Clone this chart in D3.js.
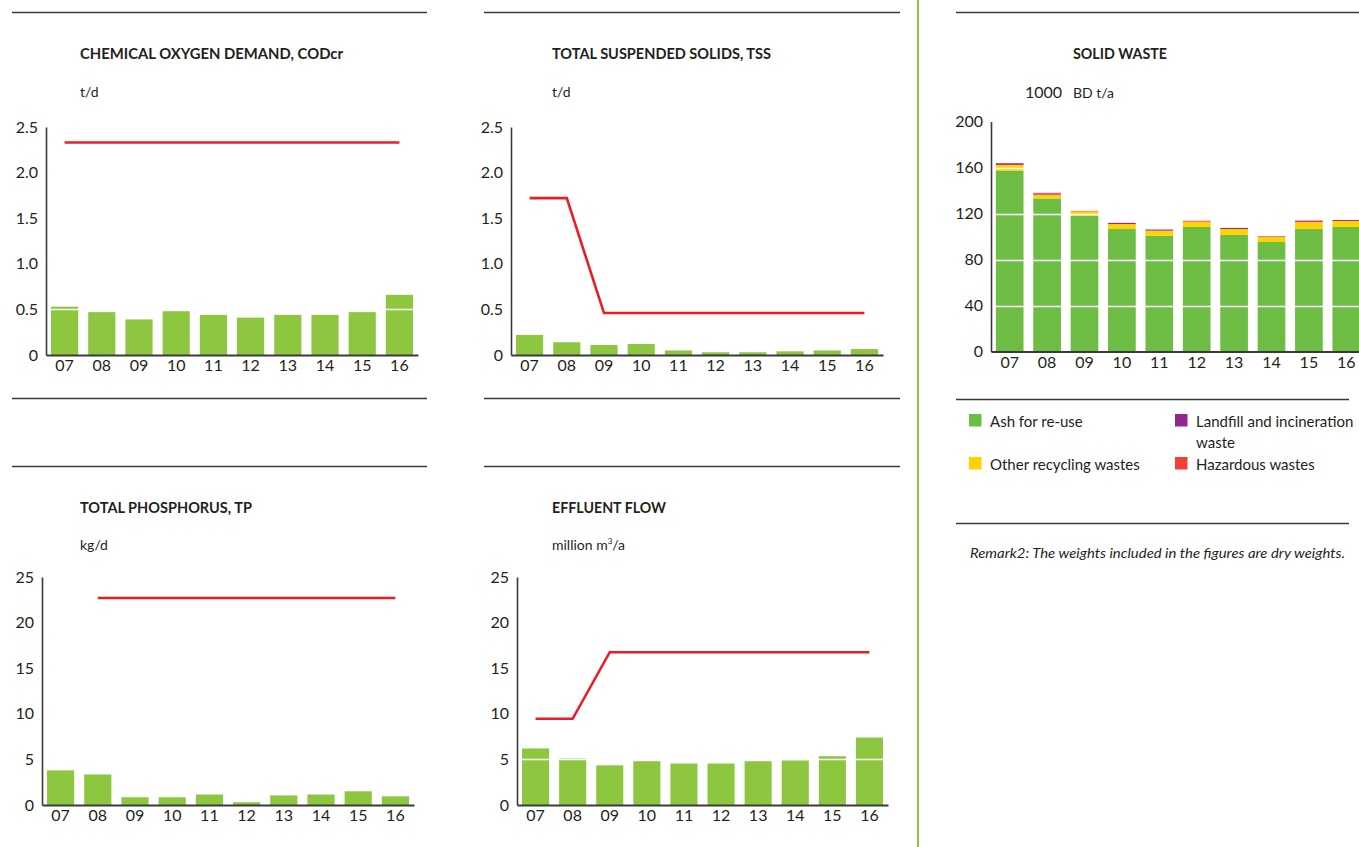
<!DOCTYPE html>
<html>
<head>
<meta charset="utf-8">
<script src="https://cdn.jsdelivr.net/npm/d3@7"></script>
<style>
  body { margin: 0; background: #fff; }
  svg { display: block; font-family: Lato, "Open Sans", sans-serif; }
  .tick text { fill: #231f20; }
</style>
</head>
<body>
<svg width="1359" height="847"></svg>
<script>
// values
var years = ["07", "08", "09", "10", "11", "12", "13", "14", "15", "16"];

var codValues = [0.53, 0.47, 0.39, 0.48, 0.44, 0.41, 0.44, 0.44, 0.47, 0.66];
var codLimit = [2.33, 2.33, 2.33, 2.33, 2.33, 2.33, 2.33, 2.33, 2.33, 2.33];
var codTicks = [0, 0.5, 1.0, 1.5, 2.0, 2.5];

var tssValues = [0.22, 0.14, 0.11, 0.12, 0.05, 0.03, 0.03, 0.04, 0.05, 0.065];
var tssLimit = [1.72, 1.72, 0.46, 0.46, 0.46, 0.46, 0.46, 0.46, 0.46, 0.46];
var tssTicks = [0, 0.5, 1.0, 1.5, 2.0, 2.5];

var tpValues = [3.8, 3.35, 0.85, 0.85, 1.15, 0.3, 1.05, 1.15, 1.5, 0.95];
var tpLimit = [null, 22.7, 22.7, 22.7, 22.7, 22.7, 22.7, 22.7, 22.7, 22.7];
var tpTicks = [0, 5, 10, 15, 20, 25];

var flowValues = [6.2, 5.1, 4.35, 4.8, 4.55, 4.55, 4.8, 4.9, 5.35, 7.4];
var flowLimit = [9.45, 9.45, 16.75, 16.75, 16.75, 16.75, 16.75, 16.75, 16.75, 16.75];
var flowTicks = [0, 5, 10, 15, 20, 25];

var ashReuse = [157, 133, 118, 106.5, 100.7, 108.3, 101.3, 95.2, 106.5, 108.3];
var otherRecycling = [5.3, 3.4, 4.0, 4.3, 4.4, 4.6, 5.2, 4.4, 6.0, 5.2];
var landfill = [1.4, 1.0, 0.3, 1.0, 0.9, 0.4, 0.9, 0.3, 0.8, 0.8];
var hazardous = [0.2, 0.6, 0, 0.1, 0.1, 0.4, 0.1, 0.4, 0.6, 0.1];
var wasteTicks = [0, 40, 80, 120, 160, 200];
var wasteLabels = ["Ash for re-use", "Other recycling wastes", "Landfill and incineration waste", "Hazardous wastes"];
var wasteColors = ["#6dbd45", "#ffd200", "#92278f", "#ef4136"];

var svg = d3.select("svg");
var ink = "#231f20", rule = "#3a3a3a";
var barGreen = "#8dc63f", limitRed = "#ed1c24";

function hline(x1, x2, y) {
  svg.append("line").attr("x1", x1).attr("x2", x2).attr("y1", y).attr("y2", y)
    .attr("stroke", rule).attr("stroke-width", 1.3);
}

function heading(x, y, title, titleWidth, unit, unitY) {
  svg.append("text").attr("x", x).attr("y", y).attr("fill", ink)
    .attr("font-size", 15).attr("font-weight", 700)
    .attr("textLength", titleWidth).attr("lengthAdjust", "spacingAndGlyphs")
    .text(title);
  return svg.append("text").attr("x", x).attr("y", unitY).attr("fill", ink)
    .attr("font-size", 14).text(unit);
}

function tickFmt(d) {
  return d === 0 ? "0" : (d % 1 === 0 && d < 3 ? d3.format(".1f")(d) : d);
}

function drawAxes(g, x, y, ticks, fmt) {
  g.append("g").attr("transform", "translate(" + x.range()[0] + ",0)")
    .call(d3.axisLeft(y).tickValues(ticks).tickSize(0).tickSizeOuter(0)
      .tickPadding(8).tickFormat(fmt))
    .call(function(a) {
      a.select(".domain").attr("stroke", rule).attr("stroke-width", 1.6);
      a.selectAll("text").attr("font-size", 16).attr("font-family", "Lato, sans-serif");
    });

  g.append("g").attr("transform", "translate(0," + y.range()[0] + ")")
    .call(d3.axisBottom(x).tickSize(0).tickSizeOuter(0).tickPadding(5))
    .call(function(a) {
      a.select(".domain").attr("stroke", rule).attr("stroke-width", 2);
      a.selectAll("text").attr("font-size", 16).attr("font-family", "Lato, sans-serif");
    });
}

function gridOver(g, x, y, ticks) {
  g.append("g").selectAll("line").data(ticks.slice(1, -1)).join("line")
    .attr("x1", x.range()[0] + 1).attr("x2", x.range()[1])
    .attr("y1", function(d) { return Math.round(y(d)) + 0.5; })
    .attr("y2", function(d) { return Math.round(y(d)) + 0.5; })
    .attr("stroke", "#fff").attr("stroke-width", 1.4);
}

function drawBarChart(box, values, limit, ticks, fmt) {
  var g = svg.append("g");
  var x = d3.scaleBand().domain(years).range([box.left, box.right])
    .paddingInner(0.27).paddingOuter(0.135);
  var y = d3.scaleLinear().domain([0, d3.max(ticks)]).range([box.base, box.top]);

  g.append("g").selectAll("rect").data(values).join("rect")
    .attr("x", function(d, i) { return x(years[i]); })
    .attr("width", x.bandwidth())
    .attr("y", function(d) { return y(d); })
    .attr("height", function(d) { return y(0) - y(d); })
    .attr("fill", barGreen);

  gridOver(g, x, y, ticks);

  var line = d3.line()
    .defined(function(d) { return d != null; })
    .x(function(d, i) { return x(years[i]) + x.bandwidth() / 2; })
    .y(function(d) { return y(d); });

  g.append("path").datum(limit).attr("fill", "none").attr("stroke", limitRed)
    .attr("stroke-width", 2.6).attr("d", line);

  drawAxes(g, x, y, ticks, fmt);
}

// separators and vertical divider
hline(12, 427, 12.5); hline(12, 427, 398.5); hline(12, 427, 466.5);
hline(484, 900, 12.5); hline(484, 900, 398.5); hline(484, 900, 466.5);
hline(956, 1359, 12.5); hline(956, 1349, 399.5); hline(956, 1349, 523.5);
svg.append("line").attr("x1", 918).attr("x2", 918).attr("y1", 0).attr("y2", 847)
  .attr("stroke", "#8dc63f").attr("stroke-width", 2);

// COD
heading(80, 59, "CHEMICAL OXYGEN DEMAND, CODcr", 263, "t/d", 97);
drawBarChart({ left: 46, right: 418, top: 127, base: 355 }, codValues, codLimit, codTicks, tickFmt);

// TSS
heading(552, 59, "TOTAL SUSPENDED SOLIDS, TSS", 219, "t/d", 97);
drawBarChart({ left: 511, right: 883, top: 127, base: 355 }, tssValues, tssLimit, tssTicks, tickFmt);

// TP
heading(80, 513, "TOTAL PHOSPHORUS, TP", 172, "kg/d", 550);
drawBarChart({ left: 42, right: 414, top: 577, base: 805 }, tpValues, tpLimit, tpTicks, tickFmt);

// Effluent flow
var unitFlow = heading(552, 513, "EFFLUENT FLOW", 114, "million m", 550);
unitFlow.append("tspan").attr("font-size", 8).attr("dy", -6).text("3");
unitFlow.append("tspan").attr("dy", 6).text("/a");
drawBarChart({ left: 517, right: 888, top: 577, base: 805 }, flowValues, flowLimit, flowTicks, tickFmt);

// Solid waste, stacked
(function() {
  svg.append("text").attr("x", 1073).attr("y", 59).attr("fill", ink)
    .attr("font-size", 15).attr("font-weight", 700)
    .attr("textLength", 94).attr("lengthAdjust", "spacingAndGlyphs").text("SOLID WASTE");
  svg.append("text").attr("x", 1025).attr("y", 98).attr("fill", ink)
    .attr("font-size", 16).text("1000");
  svg.append("text").attr("x", 1073).attr("y", 98).attr("fill", ink)
    .attr("font-size", 14).text("BD t/a");

  var rows = years.map(function(yr, i) {
    return { year: yr, ash: ashReuse[i], other: otherRecycling[i], landfill: landfill[i], haz: hazardous[i] };
  });
  var keys = ["ash", "other", "landfill", "haz"];
  var series = d3.stack().keys(keys)(rows);

  var g = svg.append("g");
  var x = d3.scaleBand().domain(years).range([991, 1365]).paddingInner(0.26).paddingOuter(0.13);
  var y = d3.scaleLinear().domain([0, 200]).range([351.5, 121.5]);

  g.append("g").selectAll("g").data(series).join("g")
    .attr("fill", function(d, i) { return wasteColors[i]; })
    .selectAll("rect").data(function(d) { return d; }).join("rect")
    .attr("x", function(d) { return x(d.data.year); })
    .attr("width", x.bandwidth())
    .attr("y", function(d) { return y(d[1]); })
    .attr("height", function(d) { return y(d[0]) - y(d[1]); });

  gridOver(g, x, y, wasteTicks);
  drawAxes(g, x, y, wasteTicks, function(d) { return d; });

  // legend
  var legendPos = [[969, 414], [969, 457], [1175, 414], [1175, 457]];
  var lg = svg.append("g").selectAll("g").data(wasteLabels).join("g")
    .attr("transform", function(d, i) { return "translate(" + legendPos[i][0] + "," + legendPos[i][1] + ")"; });
  lg.append("rect").attr("width", 12.5).attr("height", 12.5)
    .attr("fill", function(d, i) { return wasteColors[i]; });
  lg.append("text").attr("x", 21).attr("y", 12.5).attr("fill", ink).attr("font-size", 15)
    .each(function(d) {
      var t = d3.select(this);
      if (d.indexOf("incineration") > 0) {
        t.append("tspan").text("Landfill and incineration");
        t.append("tspan").attr("x", 21).attr("dy", 21.5).text("waste");
      } else {
        t.text(d);
      }
    });

  svg.append("text").attr("x", 970).attr("y", 558).attr("fill", ink)
    .attr("font-size", 13).attr("font-style", "italic")
    .attr("textLength", 375).attr("lengthAdjust", "spacingAndGlyphs")
    .text("Remark2: The weights included in the figures are dry weights.");
})();
</script>
</body>
</html>
